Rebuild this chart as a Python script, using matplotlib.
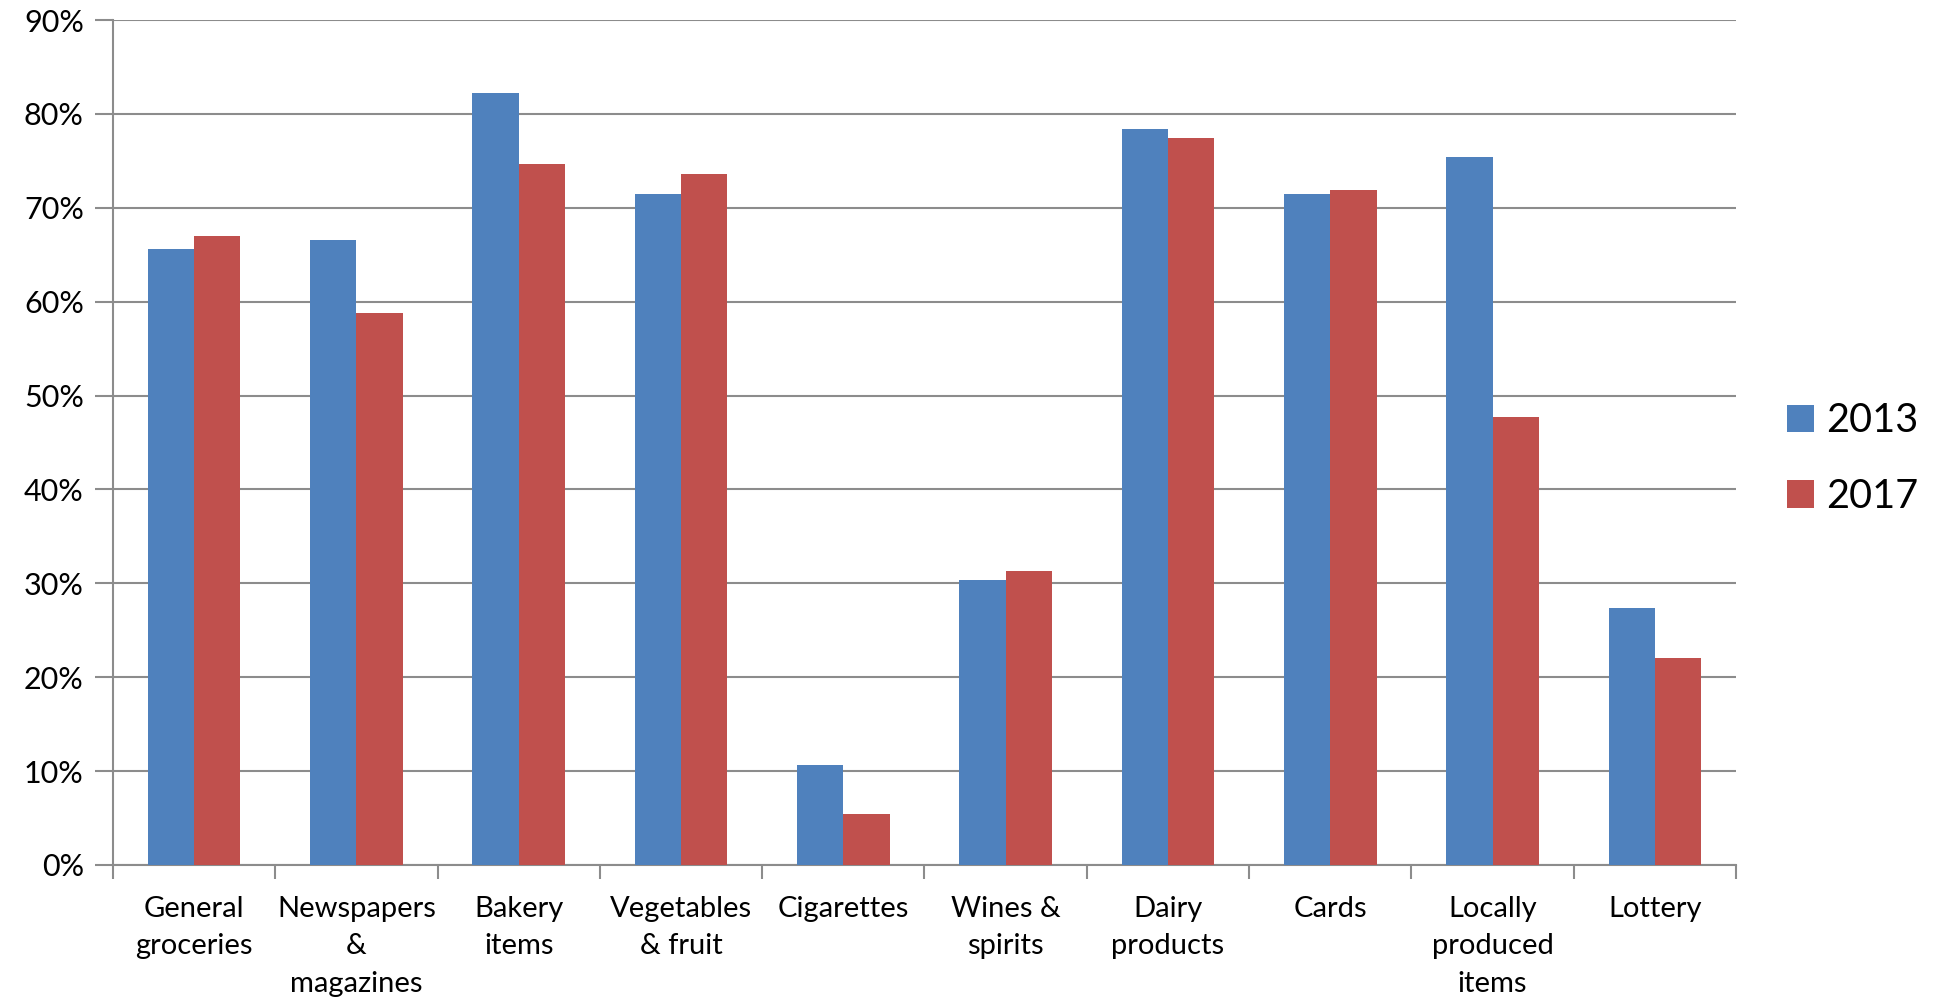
import matplotlib.pyplot as plt
import numpy as np
from matplotlib.ticker import FuncFormatter

# Data
categories = ["General\ngroceries", "Newspapers\n&\nmagazines", "Bakery\nitems",
              "Vegetables\n& fruit", "Cigarettes", "Wines &\nspirits", "Dairy\nproducts",
              "Cards", "Locally\nproduced\nitems", "Lottery"]
values_2013 = [65.6, 66.6, 82.2, 71.5, 10.7, 30.3, 78.4, 71.5, 75.4, 27.4]
values_2017 = [67.0, 58.8, 74.7, 73.6, 5.4, 31.3, 77.4, 71.9, 47.7, 22.0]
series_labels = ["2013", "2017"]

BLUE = '#4F81BD'
RED = '#C0504D'
GRID = '#8C8C8C'

plt.rcParams['font.family'] = ['Lato', 'DejaVu Sans']

fig = plt.figure(figsize=(19.41, 10.01), dpi=100)
ax = fig.add_axes([0.0582, 0.1359, 0.8362, 0.8441])

x = np.arange(len(categories))
w = 0.285
ax.bar(x - w / 2, values_2013, w, color=BLUE, label=series_labels[0], zorder=3)
ax.bar(x + w / 2, values_2017, w, color=RED, label=series_labels[1], zorder=3)

ax.set_xlim(-0.5, len(categories) - 0.5)
ax.set_ylim(0, 90)
ax.set_yticks(range(0, 91, 10))
ax.yaxis.set_major_formatter(FuncFormatter(lambda v, p: f"{int(v)}%"))
ax.yaxis.grid(True, color=GRID, linewidth=1.5, zorder=0)

# category ticks at boundaries, labels at centers
ax.set_xticks(np.arange(-0.5, len(categories), 1.0))
ax.set_xticklabels([])
ax.set_xticks(x, minor=True)
ax.set_xticklabels(categories, minor=True, fontsize=21, linespacing=1.55)
ax.tick_params(axis='x', which='minor', length=0, pad=22)
ax.tick_params(axis='x', which='major', length=10, width=1.5, color=GRID)
ax.tick_params(axis='y', length=13, width=1.5, color=GRID, labelsize=22, pad=8)

for s in ['top', 'right']:
    ax.spines[s].set_visible(False)
for s in ['left', 'bottom']:
    ax.spines[s].set_color(GRID)
    ax.spines[s].set_linewidth(1.5)

fig.legend(loc='center left', bbox_to_anchor=(0.9025, 0.542), frameon=False,
           fontsize=28.5, handlelength=0.68, handleheight=0.68, handletextpad=0.3,
           labelspacing=0.98)

plt.savefig('out.png', dpi=100)
